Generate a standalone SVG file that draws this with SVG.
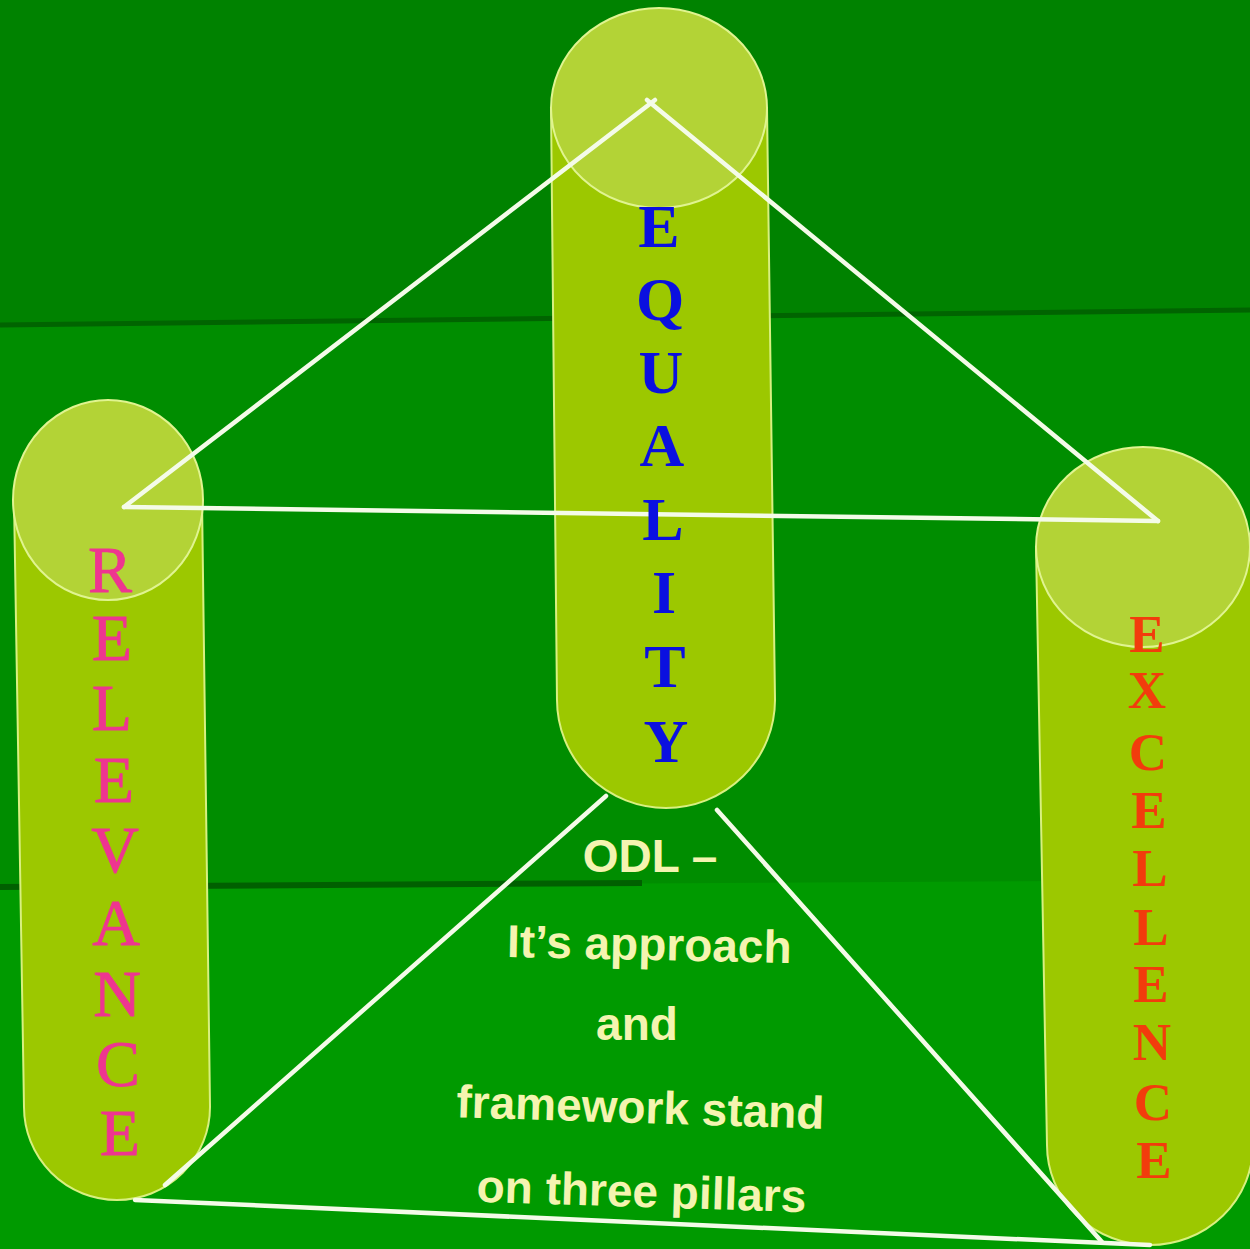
<svg xmlns="http://www.w3.org/2000/svg" width="1250" height="1249" viewBox="0 0 1250 1249">
  <style>
    .body { fill: #9cc800; stroke: #d8f080; stroke-width: 2; }
    .cap { fill: #b3d336; stroke: #e0f490; stroke-width: 2; }
    .conn { stroke: #f4fbe8; stroke-width: 4.5; fill: none; stroke-linecap: round; }
    .eq { font-family: "Liberation Serif", "Times New Roman", serif; font-weight: bold; font-size: 62px; fill: #0a10e0; text-anchor: middle; }
    .rel { font-family: "Liberation Serif", "Times New Roman", serif; font-size: 66px; fill: #ee3590; text-anchor: middle; stroke: #ee3590; stroke-width: 0.8; }
    .exc { font-family: "Liberation Serif", "Times New Roman", serif; font-weight: bold; font-size: 53px; fill: #f23c0c; text-anchor: middle; }
    .cap-text { font-family: "Liberation Sans", Arial, sans-serif; font-weight: bold; font-size: 46px; fill: #f4f4b0; text-anchor: middle; }
  </style>

  <!-- background -->
  <g id="background">
    <rect x="0" y="0" width="1250" height="1249" fill="#008200"/>
    <polygon points="0,325 1250,310 1250,1249 0,1249" fill="#008d00"/>
    <polygon points="0,887 1250,880 1250,1249 0,1249" fill="#009a00"/>
    <line x1="0" y1="325" x2="1250" y2="310" stroke="#006400" stroke-width="5"/>
    <line x1="0" y1="887" x2="642" y2="883" stroke="#006000" stroke-width="6"/>
  </g>

  <!-- pillars -->
  <g id="pillar-relevance">
    <path class="body" d="M14,500 L24,1107 A93,93 0 0 0 210,1107 L202,500 Z"/>
    <ellipse class="cap" cx="108" cy="500" rx="95" ry="100"/>
  </g>
  <g id="pillar-equality">
    <path class="body" d="M551,108 L557,700 A109,108 0 0 0 775,700 L767,108 Z"/>
    <ellipse class="cap" cx="659" cy="108" rx="108" ry="100"/>
  </g>
  <g id="pillar-excellence">
    <path class="body" d="M1036,547 L1047,1145 A103,100 0 0 0 1253,1145 L1252,547 Z"/>
    <ellipse class="cap" cx="1143" cy="547" rx="107" ry="100"/>
  </g>

  <!-- connectors -->
  <g id="connectors">
    <line class="conn" x1="124" y1="507" x2="655" y2="100"/>
    <line class="conn" x1="647" y1="100" x2="1158" y2="521"/>
    <line class="conn" x1="124" y1="507" x2="1158" y2="521"/>
    <line class="conn" x1="606" y1="796" x2="165" y2="1185"/>
    <line class="conn" x1="717" y1="810" x2="1102" y2="1242"/>
    <line class="conn" x1="135" y1="1200" x2="1150" y2="1245"/>
  </g>

  <!-- pillar labels -->
  <g id="label-equality" class="eq">
    <text x="659" y="247">E</text>
    <text x="660" y="320">Q</text>
    <text x="661" y="393">U</text>
    <text x="662" y="466">A</text>
    <text x="663" y="540">L</text>
    <text x="664" y="613">I</text>
    <text x="665" y="687">T</text>
    <text x="666" y="762">Y</text>
  </g>
  <g id="label-relevance" class="rel">
    <text x="110" y="592">R</text>
    <text x="112" y="660">E</text>
    <text x="112" y="730">L</text>
    <text x="114" y="802">E</text>
    <text x="115" y="872">V</text>
    <text x="116" y="945">A</text>
    <text x="117" y="1016">N</text>
    <text x="118" y="1086">C</text>
    <text x="120" y="1155">E</text>
  </g>
  <g id="label-excellence" class="exc">
    <text x="1147" y="652">E</text>
    <text x="1147" y="708">X</text>
    <text x="1148" y="770">C</text>
    <text x="1149" y="828">E</text>
    <text x="1150" y="886">L</text>
    <text x="1151" y="945">L</text>
    <text x="1151" y="1002">E</text>
    <text x="1152" y="1060">N</text>
    <text x="1153" y="1120">C</text>
    <text x="1154" y="1178">E</text>
  </g>

  <!-- central caption -->
  <g id="caption" class="cap-text">
    <text x="650" y="872">ODL –</text>
    <text x="649" y="960" transform="rotate(1.2 649 960)">It’s approach</text>
    <text x="637" y="1040">and</text>
    <text x="640" y="1123" transform="rotate(1.8 640 1123)">framework stand</text>
    <text x="641" y="1207" transform="rotate(1.8 641 1207)">on three pillars</text>
  </g>
</svg>
